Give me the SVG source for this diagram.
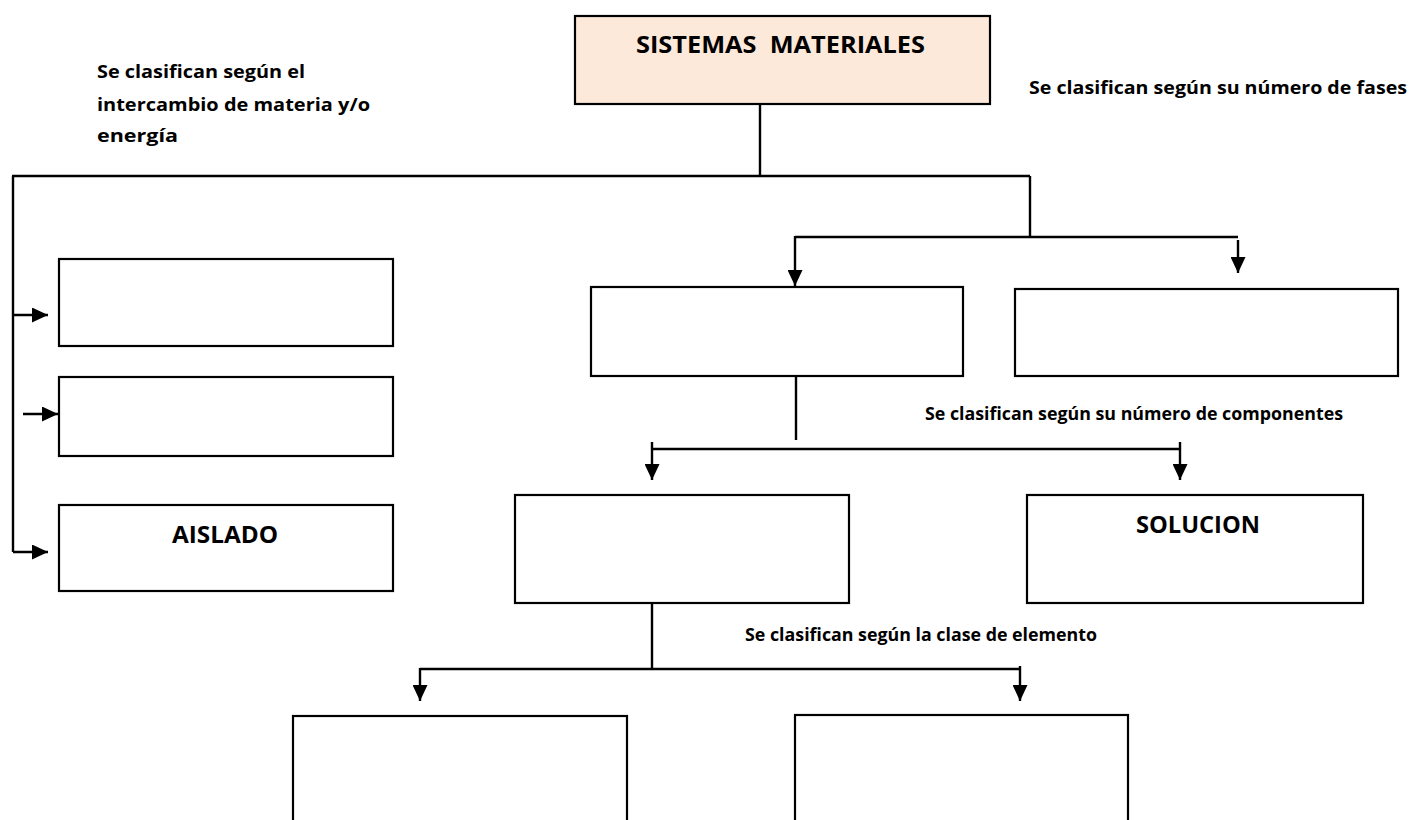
<svg xmlns="http://www.w3.org/2000/svg" width="1411" height="820" viewBox="0 0 1411 820">
<style>
.box{fill:#ffffff;stroke:#000;stroke-width:2.2}
.top{fill:#fde9d9;stroke:#000;stroke-width:2.2}
.ln{fill:none;stroke:#000;stroke-width:2.4}
.t{font-family:"Open Sans","Liberation Sans",sans-serif;font-weight:bold;fill:#000}
</style>
<defs>
<marker id="ah" markerUnits="userSpaceOnUse" markerWidth="16" markerHeight="15" viewBox="0 0 16 15" refX="16" refY="7.5" orient="auto">
<path d="M0,0 L16,7.5 L0,15 z" fill="#000"/>
</marker>
</defs>
<g id="labels">
<text class="t" font-size="17" x="97" y="78" textLength="208" lengthAdjust="spacingAndGlyphs">Se clasifican según el</text>
<text class="t" font-size="17" x="97" y="111" textLength="273" lengthAdjust="spacingAndGlyphs">intercambio de materia y/o</text>
<text class="t" font-size="17" x="97" y="142" textLength="81" lengthAdjust="spacingAndGlyphs">energía</text>
<text class="t" font-size="17" x="1029" y="94" textLength="378" lengthAdjust="spacingAndGlyphs">Se clasifican según su número de fases</text>
<text class="t" font-size="17" x="925" y="420" textLength="418" lengthAdjust="spacingAndGlyphs">Se clasifican según su número de componentes</text>
<text class="t" font-size="17" x="745" y="641" textLength="352" lengthAdjust="spacingAndGlyphs">Se clasifican según la clase de elemento</text>
</g>
<g id="connectors">
<path class="ln" d="M760,104 V176 M12,176 H1030 M1030,176 V238"/>
<path class="ln" d="M13,176 V552"/>
<path class="ln" d="M13,315 H48" marker-end="url(#ah)"/>
<path class="ln" d="M23,414 H58" marker-end="url(#ah)"/>
<path class="ln" d="M13,552 H48" marker-end="url(#ah)"/>
<path class="ln" d="M795,237 H1238"/>
<path class="ln" d="M795,236 V286" marker-end="url(#ah)"/>
<path class="ln" d="M1238,240 V273" marker-end="url(#ah)"/>
<path class="ln" d="M796,376 V440"/>
<path class="ln" d="M652,449 H1180"/>
<path class="ln" d="M652,442 V480" marker-end="url(#ah)"/>
<path class="ln" d="M1180,442 V480" marker-end="url(#ah)"/>
<path class="ln" d="M652,603 V669 M420,669 H1020"/>
<path class="ln" d="M420,668 V701" marker-end="url(#ah)"/>
<path class="ln" d="M1020,666 V701" marker-end="url(#ah)"/>
</g>
<g id="n-sistemas">
<rect class="top" x="575" y="16" width="415" height="88"/>
<text class="t" font-size="23" x="636" y="53" textLength="289" lengthAdjust="spacingAndGlyphs">SISTEMAS&#160; MATERIALES</text>
</g>
<g id="n-left1"><rect class="box" x="59" y="259" width="334" height="87"/></g>
<g id="n-left2"><rect class="box" x="59" y="377" width="334" height="79"/></g>
<g id="n-aislado">
<rect class="box" x="59" y="505" width="334" height="86"/>
<text class="t" font-size="23" x="172" y="543" textLength="106" lengthAdjust="spacingAndGlyphs">AISLADO</text>
</g>
<g id="n-mid1"><rect class="box" x="591" y="287" width="372" height="89"/></g>
<g id="n-mid2"><rect class="box" x="1015" y="289" width="383" height="87"/></g>
<g id="n-low1"><rect class="box" x="515" y="495" width="334" height="108"/></g>
<g id="n-solucion">
<rect class="box" x="1027" y="495" width="336" height="108"/>
<text class="t" font-size="23" x="1136" y="533" textLength="124" lengthAdjust="spacingAndGlyphs">SOLUCION</text>
</g>
<g id="n-bot1"><rect class="box" x="293" y="716" width="334" height="120"/></g>
<g id="n-bot2"><rect class="box" x="795" y="715" width="333" height="120"/></g>
</svg>
